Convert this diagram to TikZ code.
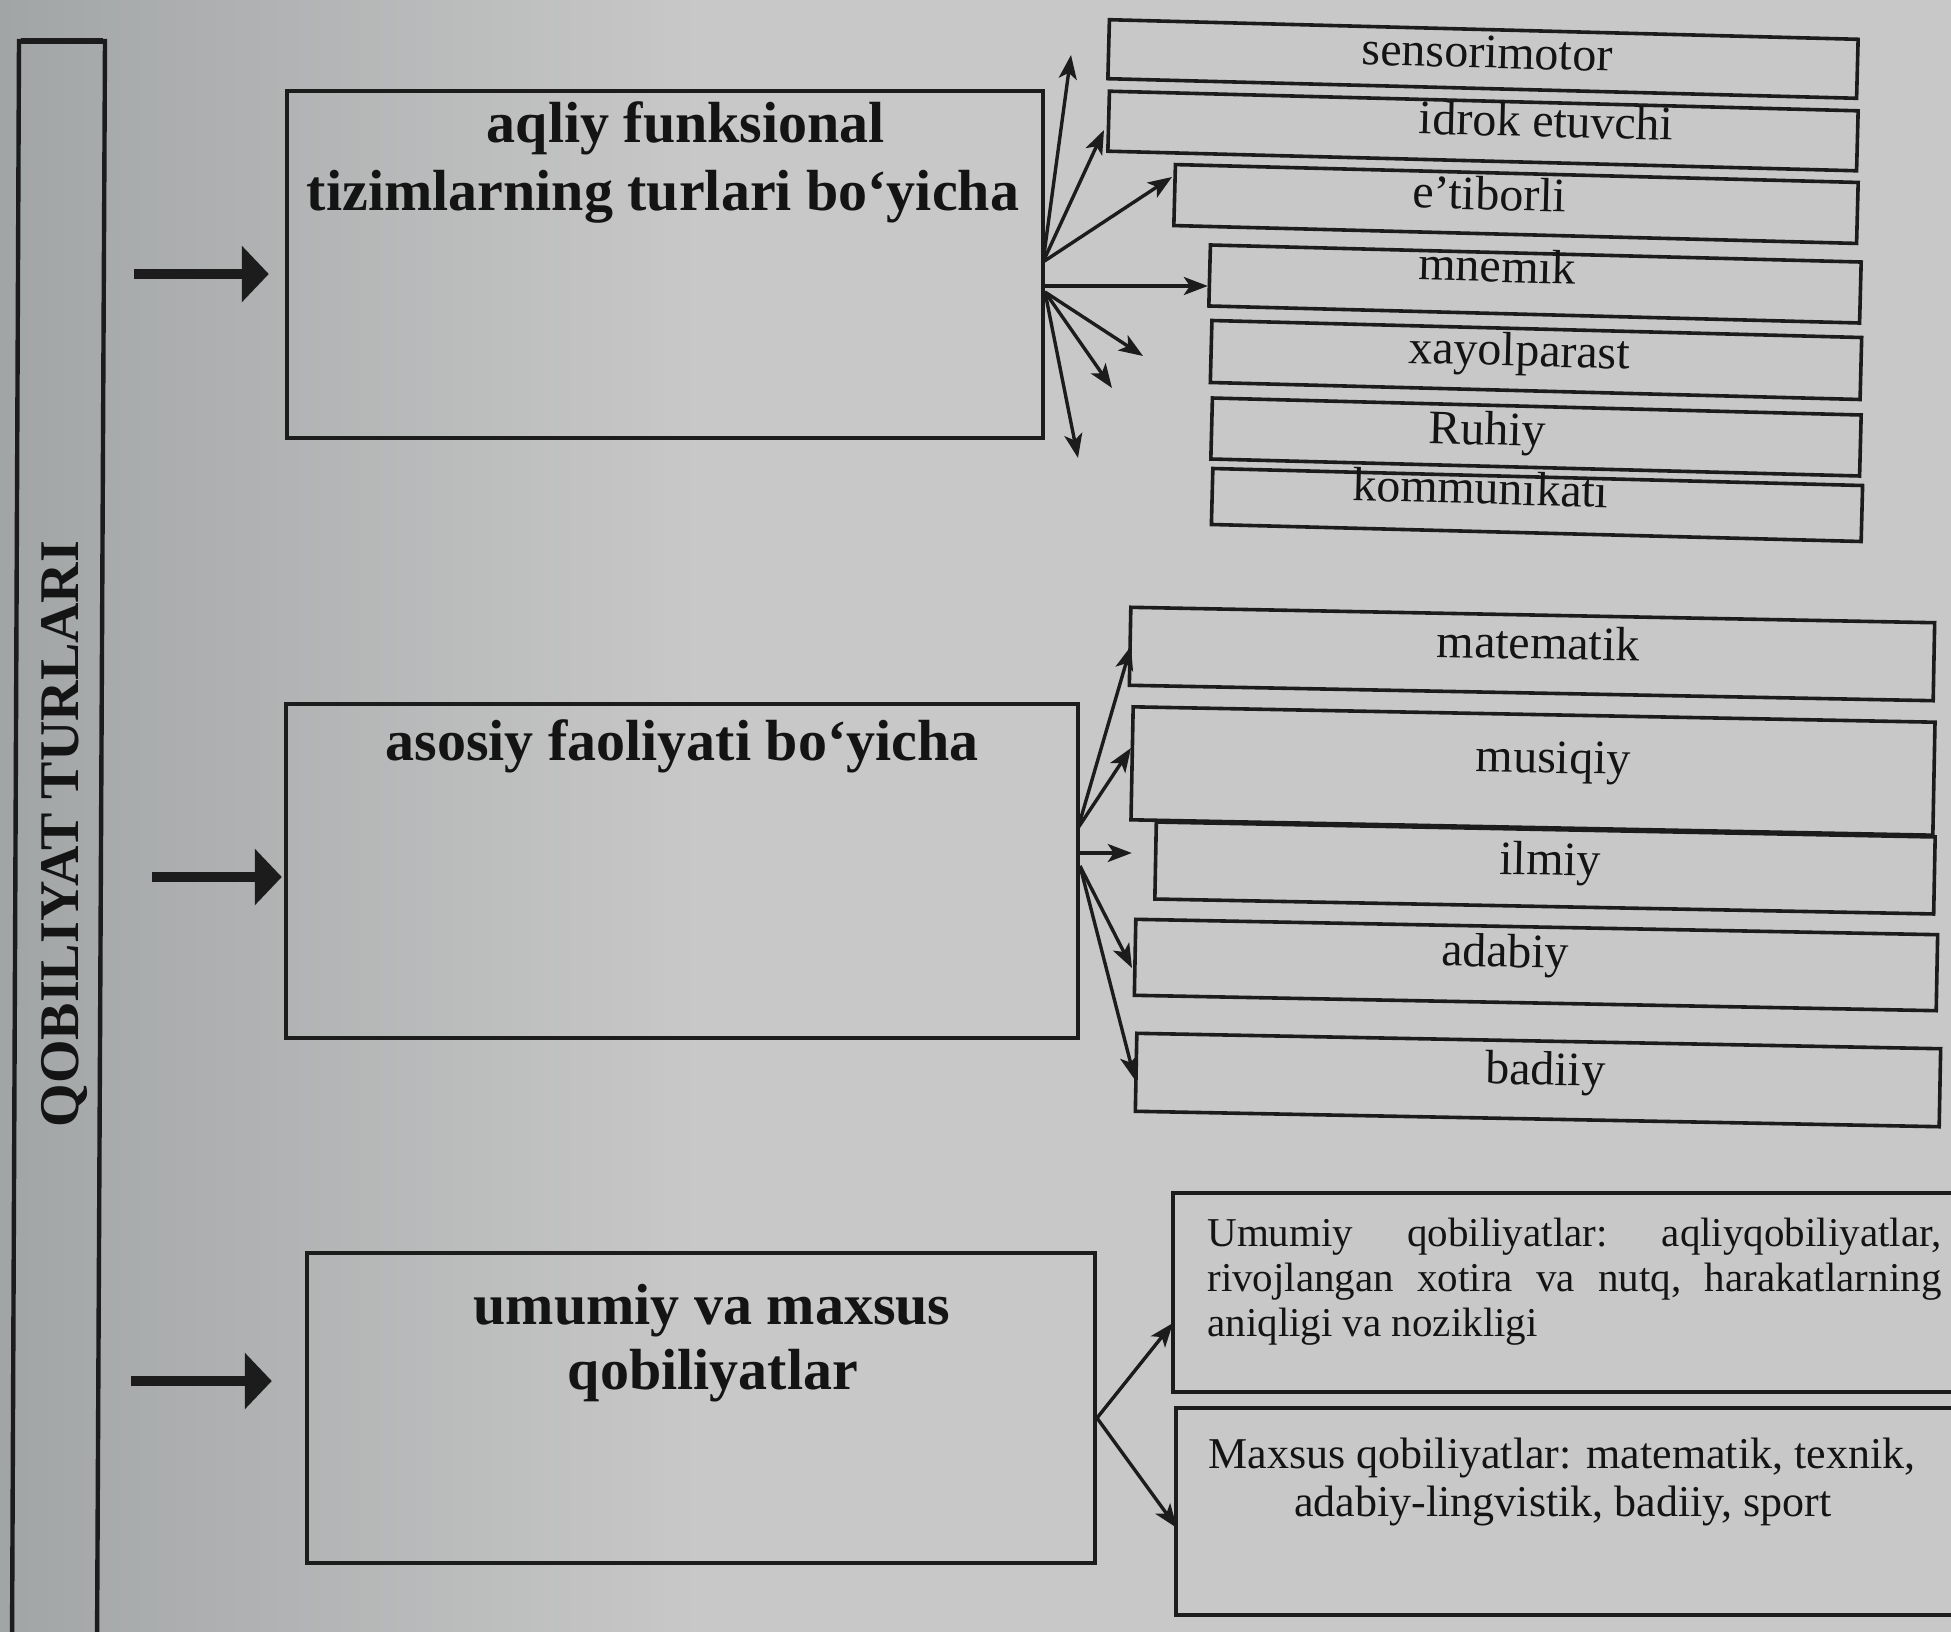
\documentclass[tikz,border=0pt]{standalone}
\usepackage{fontspec}
\setmainfont{Liberation Serif}
\usetikzlibrary{arrows.meta}
\definecolor{ink}{HTML}{1C1C1C}
\definecolor{txtink}{HTML}{141414}
\definecolor{bgbase}{HTML}{C8C8C8}
\definecolor{bgleft}{HTML}{A2A5A6}
\begin{document}
\begin{tikzpicture}[x=0.5pt,y=-0.5pt,
  mainbox/.style={draw=ink, line width=2.2pt, rectangle, inner sep=0pt},
  subbox/.style={draw=ink, line width=1.8pt, rectangle, inner sep=0pt},
  boldtxt/.style={font=\fontsize{29pt}{33.5pt}\selectfont\bfseries, text=txtink, inner sep=0pt, anchor=base},
  vlabel/.style={font=\fontsize{28pt}{32pt}\selectfont\bfseries, text=txtink, inner sep=0pt, anchor=base, rotate=90},
  subtxt/.style={font=\fontsize{24pt}{28pt}\selectfont, text=txtink, inner sep=0pt, anchor=base},
  smalltxt/.style={font=\fontsize{20.5pt}{22.5pt}\selectfont, text=txtink, inner sep=0pt, anchor=base west},
  medtxt/.style={font=\fontsize{22pt}{26pt}\selectfont, text=txtink, inner sep=0pt, anchor=base},
  bigarrow/.style={draw=ink, line width=5pt, -{Triangle[length=13.5pt,width=27.5pt]}},
  thinarrow/.style={draw=ink, line width=1.7pt, -{Stealth[length=12pt,width=9pt,inset=3pt]}}
]
\useasboundingbox (0,0) rectangle (1951,1632);
\clip (0,0) rectangle (1951,1632);
\fill[bgbase] (0,0) rectangle (1951,1632);
\shade[left color=bgleft, right color=bgbase] (0,0) rectangle (700,1632);

% left bar
\draw[ink, line width=2.2pt] (12,1650) -- (19,41) -- (105,41) -- (97,1650);
\draw[ink, line width=3pt] (21,41) -- (103,41);
\node[vlabel] (Q) at (78,834) {QOBILIYAT TURLARI};

% main boxes
\node[mainbox, minimum width=378pt, minimum height=173.5pt] (A) at (665,264.5) {};
\node[mainbox, minimum width=396pt, minimum height=167pt] (B) at (682,871) {};
\node[mainbox, minimum width=394pt, minimum height=155pt] (C) at (701,1408) {};

\node[boldtxt] (A1) at (686,143) {aqliy funksional};
\node[boldtxt] (A2) at (663,211) {tizimlarning turlari bo‘yicha};
\node[boldtxt] (B1) at (682,760) {asosiy faoliyati bo‘yicha};
\node[boldtxt] (C1) at (712,1324) {umumiy va maxsus};
\node[boldtxt] (C2) at (713,1389) {qobiliyatlar};

% thick arrows
\coordinate (qa) at (134,274);
\coordinate (qb) at (152,877);
\coordinate (qc) at (131,1381);
\draw[bigarrow, shorten >=8pt] (qa) -- (qa -| A.west);
\draw[bigarrow, shorten >=1pt] (qb) -- (qb -| B.west);
\draw[bigarrow, shorten >=16.5pt] (qc) -- (qc -| C.west);

% top group
\begin{scope}[every node/.append style={rotate=-1.5}]
\node[subbox, minimum width=374.5pt, minimum height=29.5pt] (s1) at (1483,59) {};
\node[subbox, minimum width=374.5pt, minimum height=30pt] (s2) at (1483,131) {};
\node[subbox, minimum width=341.5pt, minimum height=30.5pt] (s3) at (1516,204) {};
\node[subbox, minimum width=325.5pt, minimum height=30.5pt] (s4) at (1535,284) {};
\node[subbox, minimum width=325pt, minimum height=31pt] (s5) at (1536,360) {};
\node[subbox, minimum width=324.5pt, minimum height=30.5pt] (s6) at (1536,437) {};
\node[subbox, minimum width=325pt, minimum height=28pt] (s7) at (1537,505) {};
\node[subtxt] (t1) at (1487,68) {sensorimotor};
\node[subtxt] (t2) at (1546,137) {idrok etuvchi};
\node[subtxt] (t3) at (1489,210) {e'tiborli};
\node[subtxt] (t4) at (1497,282) {mnemık};
\node[subtxt] (t5) at (1519,366) {xayolparast};
\node[subtxt] (t6) at (1487,445) {Ruhiy};
\node[subtxt] (t7) at (1480,504) {kommunıkatı};
\end{scope}

% middle group
\begin{scope}[every node/.append style={rotate=-1.1}]
\node[subbox, minimum width=402pt, minimum height=39pt] (m1) at (1532,654) {};
\node[subbox, minimum width=401pt, minimum height=56.5pt] (m2) at (1533,771) {};
\node[subbox, minimum width=389.5pt, minimum height=38.5pt] (m3) at (1545,868) {};
\node[subbox, minimum width=401pt, minimum height=38pt] (m4) at (1536,965) {};
\node[subbox, minimum width=402pt, minimum height=39pt] (m5) at (1538,1080) {};
\node[subtxt] (u1) at (1538,659) {matematik};
\node[subtxt] (u2) at (1553,773) {musiqiy};
\node[subtxt] (u3) at (1550,875) {ilmiy};
\node[subtxt] (u4) at (1505,967) {adabiy};
\node[subtxt] (u5) at (1545,1085) {badiiy};
\end{scope}

% bottom group
\node[subbox, line width=2pt, minimum width=398.5pt, minimum height=99.5pt] (g1) at (1571.5,1292.5) {};
\node[subbox, line width=2pt, minimum width=397pt, minimum height=103.5pt] (g2) at (1573,1511.5) {};
\node[smalltxt] (g1a) at (1207,1246) {\hbox to 367pt{Umumiy\hfil qobiliyatlar:\hfil aqliyqobiliyatlar,}};
\node[smalltxt] (g1b) at (1207,1291) {\hbox to 367pt{rivojlangan\hfil xotira\hfil va\hfil nutq,\hfil harakatlarning}};
\node[smalltxt] (g1c) at (1207,1336) {aniqligi va nozikligi};
\node[medtxt] (g2a) at (1562,1468) {Maxsus qobiliyatlar: matematik, texnik,};
\node[medtxt] (g2b) at (1563,1516) {adabiy-lingvistik, badiiy, sport};

% thin arrows from A
\coordinate (oA1) at (1043,262);
\coordinate (oA2) at (1043,286);
\coordinate (oA3) at (1045,292);
\coordinate (pA1) at (1071,55);
\coordinate (pA2) at (1104,130);
\coordinate (pA3) at (1172,177);
\coordinate (pA5) at (1143,356);
\coordinate (pA6) at (1112,388);
\coordinate (pA7) at (1078,458);
\draw[thinarrow] (oA1) -- (pA1);
\draw[thinarrow] (oA1) -- (pA2);
\draw[thinarrow] (oA1) -- (pA3);
\draw[thinarrow] (oA2) -- (oA2 -| s4.west);
\draw[thinarrow] (oA3) -- (pA5);
\draw[thinarrow] (oA3) -- (pA6);
\draw[thinarrow] (oA3) -- (pA7);

% thin arrows from B
\coordinate (oB1) at (1078,828);
\coordinate (oB2) at (1080,853);
\coordinate (oB3) at (1080,866);
\coordinate (pB1) at (1131,646);
\coordinate (pB2) at (1131,748);
\coordinate (pB4) at (1132,968);
\coordinate (pB5) at (1135,1080);
\draw[thinarrow] (oB1) -- (pB1);
\draw[thinarrow] (oB1) -- (pB2);
\draw[thinarrow, shorten >=11pt] (oB2) -- (oB2 -| m3.west);
\draw[thinarrow] (oB3) -- (pB4);
\draw[thinarrow] (oB3) -- (pB5);

% thin arrows from C
\coordinate (oC) at (1097,1418);
\coordinate (pC1) at (1173,1323);
\coordinate (pC2) at (1177,1528);
\draw[thinarrow] (oC) -- (pC1);
\draw[thinarrow] (oC) -- (pC2);
\end{tikzpicture}
\end{document}
